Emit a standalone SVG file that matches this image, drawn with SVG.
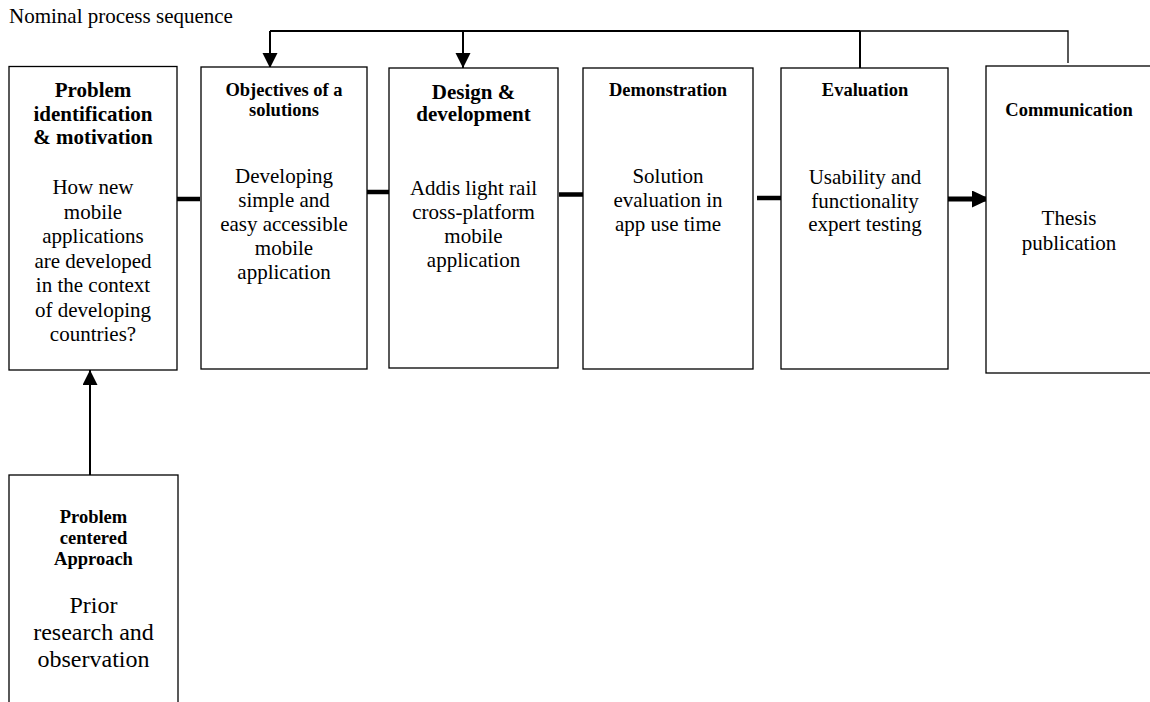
<svg xmlns="http://www.w3.org/2000/svg" width="1150" height="702" viewBox="0 0 1150 702">
<style>
.box{fill:#fff;stroke:#000;stroke-width:1.3}
.t{font-family:"Liberation Serif","Times New Roman","DejaVu Serif",Times,serif;fill:#000}
.h{font-weight:bold;text-anchor:middle}
.h21{font-size:21px}
.h18{font-size:18.5px}
.b{font-size:21px;text-anchor:middle}
.b24{font-size:24px}
.ln{fill:none;stroke:#000}
.bar{stroke:#000;stroke-width:4.5}
</style>
<defs>
<marker id="ah" markerUnits="userSpaceOnUse" markerWidth="16" markerHeight="16" refX="15" refY="7.5" orient="auto">
<path d="M0,0 L15,7.5 L0,15 z" fill="#000"/>
</marker>
<marker id="ahr" markerUnits="userSpaceOnUse" markerWidth="19" markerHeight="18" refX="18" refY="8.5" orient="auto">
<path d="M0,0 L18,8.5 L0,17 z" fill="#000"/>
</marker>
</defs>
<rect width="1150" height="702" fill="#fff"/>
<text class="t" x="9" y="23" font-size="21">Nominal process sequence</text>

<g id="connectors">
<polyline class="ln" points="270,31 860,31" stroke-width="2"/>
<polyline class="ln" points="860,31 1068,31 1068,63" stroke-width="1.3"/>
<line class="ln" x1="860" y1="31" x2="860" y2="68" stroke-width="2"/>
<line class="ln" x1="270" y1="31" x2="270" y2="68" stroke-width="2" marker-end="url(#ah)"/>
<line class="ln" x1="463" y1="31" x2="463" y2="68" stroke-width="2" marker-end="url(#ah)"/>
<line class="ln" x1="90" y1="475" x2="90" y2="370" stroke-width="2" marker-end="url(#ah)"/>
<line class="bar" x1="173" y1="199" x2="200" y2="199"/>
<line class="bar" x1="367" y1="192" x2="393" y2="192"/>
<line class="bar" x1="559" y1="194.5" x2="586" y2="194.5"/>
<line class="bar" x1="757" y1="198" x2="782" y2="198"/>
<line class="ln" x1="948" y1="199" x2="990" y2="199" stroke-width="5" marker-end="url(#ahr)"/>
</g>

<g id="node-problem">
<rect class="box" x="9" y="66.5" width="168" height="303.5"/>
<text class="t h h21" x="93" y="97">Problem</text>
<text class="t h h21" x="93" y="121">identification</text>
<text class="t h h21" x="93" y="144">&amp; motivation</text>
<text class="t b" x="93" y="194">How new</text>
<text class="t b" x="93" y="218.5">mobile</text>
<text class="t b" x="93" y="243">applications</text>
<text class="t b" x="93" y="267.5">are developed</text>
<text class="t b" x="93" y="292">in the context</text>
<text class="t b" x="93" y="316.5">of developing</text>
<text class="t b" x="93" y="341">countries?</text>
</g>

<g id="node-objectives">
<rect class="box" x="201" y="67" width="166" height="302"/>
<text class="t h h18" x="284" y="96">Objectives of a</text>
<text class="t h h18" x="284" y="116">solutions</text>
<text class="t b" x="284" y="183">Developing</text>
<text class="t b" x="284" y="207">simple and</text>
<text class="t b" x="284" y="231">easy accessible</text>
<text class="t b" x="284" y="255">mobile</text>
<text class="t b" x="284" y="279">application</text>
</g>

<g id="node-design">
<rect class="box" x="389" y="68" width="169" height="300"/>
<text class="t h h21" x="473.5" y="99">Design &amp;</text>
<text class="t h h21" x="473.5" y="121">development</text>
<text class="t b" x="473.5" y="195">Addis light rail</text>
<text class="t b" x="473.5" y="219">cross-platform</text>
<text class="t b" x="473.5" y="243">mobile</text>
<text class="t b" x="473.5" y="267">application</text>
</g>

<g id="node-demonstration">
<rect class="box" x="583" y="68" width="170" height="301"/>
<text class="t h h18" x="668" y="95.5">Demonstration</text>
<text class="t b" x="668" y="183">Solution</text>
<text class="t b" x="668" y="207">evaluation in</text>
<text class="t b" x="668" y="230.5">app use time</text>
</g>

<g id="node-evaluation">
<rect class="box" x="781" y="68" width="167" height="301"/>
<text class="t h h18" x="865" y="95.5">Evaluation</text>
<text class="t b" x="865" y="183.5">Usability and</text>
<text class="t b" x="865" y="207.5">functionality</text>
<text class="t b" x="865" y="230.5">expert testing</text>
</g>

<g id="node-communication">
<rect class="box" x="986" y="66" width="170" height="307"/>
<text class="t h h18" x="1069" y="115.5">Communication</text>
<text class="t b" x="1069" y="225">Thesis</text>
<text class="t b" x="1069" y="250">publication</text>
</g>

<g id="node-approach">
<rect class="box" x="9" y="475" width="169" height="240"/>
<text class="t h h18" x="93.5" y="523">Problem</text>
<text class="t h h18" x="93.5" y="544">centered</text>
<text class="t h h18" x="93.5" y="565">Approach</text>
<text class="t b b24" x="93.5" y="613">Prior</text>
<text class="t b b24" x="93.5" y="640">research and</text>
<text class="t b b24" x="93.5" y="667">observation</text>
</g>
</svg>
